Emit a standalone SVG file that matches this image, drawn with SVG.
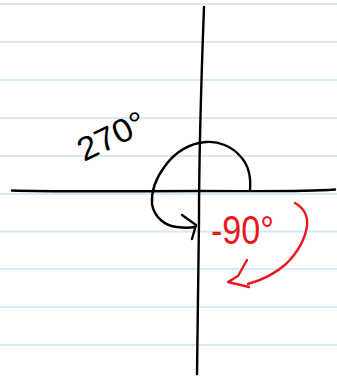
<svg xmlns="http://www.w3.org/2000/svg" width="337" height="377" viewBox="0 0 337 377">
<style>
.rule{stroke:#d6ebf8;stroke-width:2;fill:none}
.ink{stroke:#000;stroke-width:2.4;fill:none;stroke-linecap:round;stroke-linejoin:round}
.red{stroke:#e8191e;stroke-width:2.4;fill:none;stroke-linecap:round;stroke-linejoin:round}
.hand{font-family:"Liberation Sans","DejaVu Sans",sans-serif;font-weight:normal}
</style>
<rect width="337" height="377" fill="#fff"/>
<g id="ruled-lines">
<line class="rule" x1="0" y1="4" x2="337" y2="4"/>
<line class="rule" x1="0" y1="42" x2="337" y2="42"/>
<line class="rule" x1="0" y1="80" x2="337" y2="80"/>
<line class="rule" x1="0" y1="118" x2="337" y2="118"/>
<line class="rule" x1="0" y1="156" x2="337" y2="156"/>
<line class="rule" x1="0" y1="194" x2="337" y2="194"/>
<line class="rule" x1="0" y1="231.5" x2="337" y2="231.5"/>
<line class="rule" x1="0" y1="269" x2="337" y2="269"/>
<line class="rule" x1="0" y1="307" x2="337" y2="307"/>
<line class="rule" x1="0" y1="345" x2="337" y2="345"/>
</g>
<g id="axes">
<path class="ink" d="M12,190.5 C60,192 120,191 200,191 C260,191 300,192 335,189.5"/>
<path class="ink" d="M204,7 C202,60 199,160 199,220 C198,290 197,340 197,374"/>
</g>
<g id="black-loop">
<path class="ink" d="M250,190 C251,178 249,166 241,157 C232,146 218,141 206,142 C190,143 175,152 165,166 C156,178 151,190 152,204 C154,217 165,226 177,227 C184,228 190,228 195,227"/>
<polyline class="ink" points="182,215 196,225 192,239"/>
</g>
<g id="red-arrow">
<path class="red" d="M295,203 C304,208 308,216 307,226 C305,240 298,252 286,264 C276,273 262,280 248,284"/>
<polyline class="red" points="247,260 238,276 228,282 249,287"/>
</g>
<g id="labels">
<text class="hand" x="0" y="0" font-size="33" fill="#000" textLength="72" lengthAdjust="spacingAndGlyphs" transform="translate(84,162) rotate(-26)">270°</text>
<text class="hand" x="211" y="244" font-size="40" fill="#e8191e" textLength="63" lengthAdjust="spacingAndGlyphs">-90°</text>
</g>
</svg>
